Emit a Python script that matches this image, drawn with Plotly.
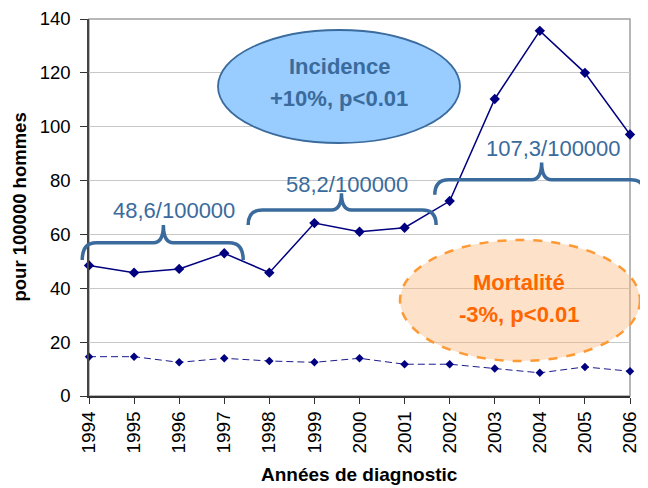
import plotly.graph_objects as go

years = [1994, 1995, 1996, 1997, 1998, 1999, 2000, 2001, 2002, 2003, 2004, 2005, 2006]
incidence = [48.5, 45.8, 47.2, 53.0, 45.8, 64.2, 61.0, 62.5, 72.4, 110.3, 135.6, 120.0, 97.1]
mortalite = [14.6, 14.6, 12.5, 14.0, 13.0, 12.5, 14.0, 11.8, 11.8, 10.2, 8.6, 10.8, 9.2]

y_ticks = [0, 20, 40, 60, 80, 100, 120, 140]
x_title = "Années de diagnostic"
y_title = "pour 100000 hommes"

# period braces: (x_left, x_right, x_tip, y_end, y_horizontal, y_tip, label, label_x, label_y)
brace_specs = [
    (1993.85, 1997.42, 1995.65, 50.5, 56.9, 63.5, "48,6/100000", 1995.89, 68.9),
    (1997.53, 2001.70, 1999.60, 63.5, 69.1, 75.3, "58,2/100000", 1999.73, 78.4),
    (2001.67, 2006.33, 2004.04, 74.7, 80.3, 86.7, "107,3/100000", 2004.31, 91.8),
]

XMIN, XMAX = 1994, 2006
YMIN, YMAX = 0, 140
PLOT_W, PLOT_H = 541, 377
PL, PT = 89, 19  # plot area origin in the 648x488 page

SANS = "Liberation Sans, Arial, sans-serif"
BLUE_TXT = "#3a6b9c"


def px_(v):
    return (v - XMIN) / (XMAX - XMIN)


def py_(v):
    return (v - YMIN) / (YMAX - YMIN)


def sx(p):  # page pixel x -> paper
    return (p - PL) / PLOT_W


def sy(p):  # page pixel y -> paper
    return (PT + PLOT_H - p) / PLOT_H


fig = go.Figure()
fig.add_trace(go.Scatter(
    x=years, y=mortalite, mode="lines+markers",
    line=dict(color="#1a1a8c", width=1, dash="7px,4px"),
    marker=dict(symbol="diamond", size=6.5, color="#000080"),
    cliponaxis=False, showlegend=False,
))
fig.add_trace(go.Scatter(
    x=years, y=incidence, mode="lines+markers",
    line=dict(color="#000080", width=1.5),
    marker=dict(symbol="diamond", size=8, color="#000080"),
    cliponaxis=False, showlegend=False,
))

shapes = []
shapes.append(dict(type="rect", xref="paper", yref="paper", x0=0, x1=1, y0=0, y1=1,
                   line=dict(color="#a0a0a0", width=1.5), layer="below"))

annotations = []
r_end = 14 / PLOT_W
r_tip = 10 / PLOT_W
for xl, xr, xt, yb, yh, yt, lab, lx, ly in brace_specs:
    XL, XR, XT = px_(xl), px_(xr), px_(xt)
    YB, YH, YT = py_(yb), py_(yh), py_(yt)
    path = (f"M {XL},{YB} Q {XL},{YH} {XL + r_end},{YH} L {XT - r_tip},{YH} "
            f"Q {XT},{YH} {XT},{YT} Q {XT},{YH} {XT + r_tip},{YH} "
            f"L {XR - r_end},{YH} Q {XR},{YH} {XR},{YB}")
    shapes.append(dict(type="path", xref="paper", yref="paper", path=path,
                       line=dict(color=BLUE_TXT, width=3.5), layer="above"))
    annotations.append(dict(x=px_(lx), y=py_(ly), xref="paper", yref="paper",
                            text=lab, showarrow=False, xanchor="center", yanchor="middle",
                            font=dict(family=SANS, size=22, color=BLUE_TXT)))

# Incidence ellipse
shapes.append(dict(type="circle", xref="paper", yref="paper",
                   x0=sx(218), x1=sx(460), y0=sy(143), y1=sy(30),
                   fillcolor="#99ccff", line=dict(color=BLUE_TXT, width=1.8), layer="above"))
for txt, yy in [("Incidence", 67), ("+10%, p<0.01", 98.5)]:
    annotations.append(dict(x=sx(339), y=sy(yy), xref="paper", yref="paper",
                            text=f"<b>{txt}</b>", showarrow=False,
                            xanchor="center", yanchor="middle",
                            font=dict(family=SANS, size=22, color=BLUE_TXT)))
# Mortalite ellipse
shapes.append(dict(type="circle", xref="paper", yref="paper",
                   x0=sx(400), x1=sx(640), y0=sy(361), y1=sy(240),
                   fillcolor="rgba(252,180,120,0.4)",
                   line=dict(color="#ff9933", width=2.5, dash="dash"), layer="above"))
for txt, yy in [("Mortalité", 282), ("-3%, p<0.01", 314)]:
    annotations.append(dict(x=sx(519), y=sy(yy), xref="paper", yref="paper",
                            text=f"<b>{txt}</b>", showarrow=False,
                            xanchor="center", yanchor="middle",
                            font=dict(family=SANS, size=22, color="#ff6600")))

annotations.append(dict(x=sx(19), y=0.5, xref="paper", yref="paper",
                        text=f"<b>{y_title}</b>", textangle=-90, showarrow=False,
                        xanchor="center", yanchor="middle",
                        font=dict(family=SANS, size=18.5, color="black")))
annotations.append(dict(x=0.5, y=sy(474), xref="paper", yref="paper",
                        text=f"<b>{x_title}</b>", showarrow=False,
                        xanchor="center", yanchor="middle",
                        font=dict(family=SANS, size=19, color="black")))

# page body has an 8px margin: draw on a 640x480 figure shifted by 8px
OFF = 8
fig.update_layout(
    width=648 - OFF, height=488 - OFF,
    margin=dict(l=PL - OFF, r=648 - (PL + PLOT_W), t=PT - OFF, b=488 - (PT + PLOT_H), pad=0),
    paper_bgcolor="white", plot_bgcolor="white",
    shapes=shapes, annotations=annotations,
    xaxis=dict(range=[XMIN, XMAX], tickvals=years, ticktext=[str(y) for y in years],
               tickangle=-90, ticks="outside", ticklen=6, tickcolor="#333",
               showline=True, linecolor="#333", linewidth=1.5,
               showgrid=False, zeroline=False, automargin=False,
               tickfont=dict(family=SANS, size=19, color="black")),
    yaxis=dict(range=[YMIN, YMAX], tickvals=y_ticks, ticks="outside", ticklen=7,
               tickcolor="#333", showline=True, linecolor="#444", linewidth=1.5,
               showgrid=True, gridcolor="#c8c8c8", gridwidth=1, zeroline=False,
               ticklabelstandoff=6, automargin=False,
               tickfont=dict(family=SANS, size=18.5, color="black")),
)

fig.write_html("out.html")
